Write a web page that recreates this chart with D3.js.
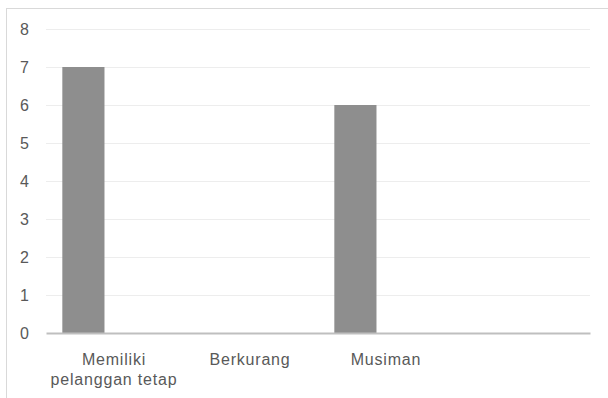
<!DOCTYPE html>
<html>
<head>
<meta charset="utf-8">
<script src="https://cdn.jsdelivr.net/npm/d3@7"></script>
<style>
  body { margin: 0; background: #fff; }
</style>
</head>
<body>
<div id="chart"></div>
<script>
// data
const categories = [`Memiliki pelanggan tetap`, `Berkurang`, `Musiman`, ``];
const values = [7, 0, 6, 0];
const yTicks = [0, 1, 2, 3, 4, 5, 6, 7, 8];

// constants
const width = 608;
const height = 398;
const margin = {top: 29, right: 18, bottom: 65, left: 46};
const fontFamily = `"Liberation Sans", Arial, sans-serif`;
const fontColor = `#595959`;
const barColor = `#8e8e8e`;

const svg = d3.select(`#chart`)
    .append(`svg`)
    .attr(`width`, width)
    .attr(`height`, height);

// chart border (runs past the right and bottom edge)
svg.append(`rect`)
    .attr(`x`, 6.5)
    .attr(`y`, 8.5)
    .attr(`width`, 640)
    .attr(`height`, 420)
    .attr(`fill`, `none`)
    .attr(`stroke`, `#d9d9d9`);

const xScale = d3.scaleBand()
    .domain(categories)
    .range([margin.left, width - margin.right])
    .padding(0);

const yScale = d3.scaleLinear()
    .domain([0, 8])
    .range([height - margin.bottom, margin.top]);

// gridlines
svg.append(`g`)
    .selectAll(`line`)
    .data(yTicks.filter(d => d > 0))
    .join(`line`)
    .attr(`x1`, margin.left)
    .attr(`x2`, width - margin.right)
    .attr(`y1`, d => Math.round(yScale(d)) + 0.5)
    .attr(`y2`, d => Math.round(yScale(d)) + 0.5)
    .attr(`stroke`, `#ededed`)
    .attr(`stroke-width`, 1);

// y labels
const yAxis = svg.append(`g`)
    .attr(`transform`, `translate(29,0)`)
    .call(d3.axisLeft(yScale).tickValues(yTicks).tickSize(0).tickPadding(0));
yAxis.select(`.domain`).remove();
yAxis.selectAll(`text`)
    .style(`font-family`, fontFamily)
    .style(`font-size`, `16px`)
    .attr(`fill`, fontColor);

// bars
const bw = xScale.bandwidth();
svg.append(`g`)
    .selectAll(`rect`)
    .data(values.map((v, i) => ({cat: categories[i], value: v})))
    .join(`rect`)
    .attr(`x`, d => xScale(d.cat) + bw * 0.12)
    .attr(`width`, bw * 0.31)
    .attr(`y`, d => yScale(d.value))
    .attr(`height`, d => yScale(0) - yScale(d.value))
    .attr(`fill`, barColor);

// x axis line
const xAxis = svg.append(`g`)
    .attr(`transform`, `translate(0, ${yScale(0)})`)
    .call(d3.axisBottom(xScale).tickSize(0).tickFormat(``));
xAxis.select(`.domain`)
    .attr(`stroke`, `#bfbfbf`)
    .attr(`stroke-width`, 2);

// x labels, wrapped
const wrap = {[`Memiliki pelanggan tetap`]: [`Memiliki`, `pelanggan tetap`]};
svg.append(`g`)
    .selectAll(`text`)
    .data(categories)
    .join(`text`)
    .attr(`x`, d => xScale(d) + bw / 2)
    .attr(`y`, 365)
    .attr(`text-anchor`, `middle`)
    .style(`font-family`, fontFamily)
    .style(`font-size`, `16px`)
    .style(`letter-spacing`, `0.8px`)
    .attr(`fill`, fontColor)
    .each(function (d) {
        const lines = wrap[d] || [d];
        d3.select(this).selectAll(`tspan`)
            .data(lines)
            .join(`tspan`)
            .attr(`x`, xScale(d) + bw / 2)
            .attr(`dy`, (l, i) => i === 0 ? 0 : 20)
            .text(l => l);
    });
</script>
</body>
</html>
